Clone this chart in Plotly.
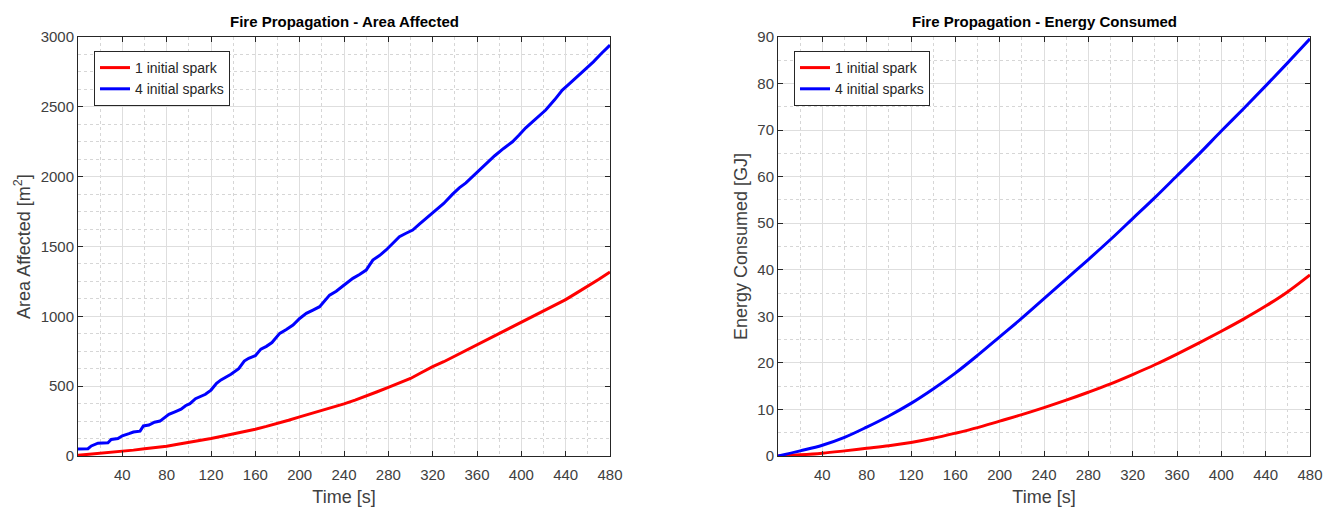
import plotly.graph_objects as go

# ---- Data: Area affected ----
t_area_4 = [0, 9, 12, 18, 27, 30, 36, 40, 46, 50, 56, 59, 64, 69, 74, 78, 82, 88, 93, 97,
            101, 106, 111, 115, 120, 125, 129, 134, 138, 145, 150, 154, 160, 165, 170, 175,
            182, 188, 194, 200, 206, 212, 218, 227, 233, 239, 248, 254, 260, 266, 272, 278,
            284, 290, 296, 302, 308, 314, 320, 326, 330, 338, 344, 350, 356, 362, 368, 376,
            384, 392, 398, 404, 410, 416, 422, 430, 437, 444, 452, 458, 465, 472, 480]
area_4 = [50, 52, 72, 92, 95, 118, 125, 145, 160, 172, 178, 215, 222, 242, 250, 275, 298, 318, 335, 360,
          375, 410, 425, 442, 472, 520, 545, 565, 585, 625, 680, 700, 718, 765, 785, 812,
          878, 905, 938, 985, 1021, 1045, 1069, 1152, 1180, 1217, 1272, 1300, 1331, 1403, 1435, 1475,
          1520, 1570, 1595, 1618, 1660, 1701, 1745, 1785, 1808, 1875, 1920, 1955, 2000, 2050, 2095, 2150,
          2202, 2250, 2298, 2350, 2393, 2435, 2477, 2550, 2620, 2670, 2727, 2775, 2822, 2880, 2942]

t_area_1 = [0, 10, 20, 30, 40, 50, 60, 70, 80, 90, 100, 110, 120, 130, 140, 150, 160, 170, 180, 190,
            200, 210, 220, 230, 240, 250, 260, 270, 280, 290, 300, 310, 320, 330, 340, 350, 360, 370,
            380, 390, 400, 410, 420, 430, 440, 450, 460, 470, 480]
area_1 = [5, 12, 20, 26, 32, 42, 52, 60, 70, 84, 97, 110, 125, 142, 158, 175, 192, 212, 232, 256,
          280, 302, 325, 350, 373, 400, 428, 460, 492, 522, 555, 598, 640, 675, 715, 755, 800, 838,
          878, 918, 960, 1000, 1040, 1078, 1120, 1168, 1215, 1265, 1318]

# ---- Data: Energy consumed ----
t_energy = [0, 20, 40, 60, 80, 100, 120, 140, 160, 180, 200, 220, 240, 260, 280, 300, 320, 340,
            360, 380, 400, 420, 440, 460, 480]
energy_1 = [0, 0.25, 0.6, 1.1, 1.65, 2.2, 2.9, 3.8, 4.9, 6.1, 7.5, 8.9, 10.4, 12.0, 13.7, 15.5,
            17.5, 19.6, 21.9, 24.3, 26.8, 29.4, 32.2, 35.3, 38.9]
energy_4 = [0, 1.1, 2.3, 4.0, 6.2, 8.6, 11.3, 14.4, 17.8, 21.6, 25.6, 29.6, 33.8, 38.0, 42.2, 46.5,
            51.0, 55.5, 60.2, 64.9, 69.8, 74.6, 79.5, 84.5, 89.6]

x_ticks = [40, 80, 120, 160, 200, 240, 280, 320, 360, 400, 440, 480]
y_ticks_area = [0, 500, 1000, 1500, 2000, 2500, 3000]
y_ticks_energy = [0, 10, 20, 30, 40, 50, 60, 70, 80, 90]

RED = "#ff0000"
BLUE = "#0000ff"
AX = "#262626"
FONT = "Liberation Sans, Arial, Helvetica, sans-serif"

fig = go.Figure()
fig.add_trace(go.Scatter(x=t_area_1, y=area_1, mode="lines", name="1 initial spark",
                         line=dict(color=RED, width=3), xaxis="x", yaxis="y", legend="legend"))
fig.add_trace(go.Scatter(x=t_area_4, y=area_4, mode="lines", name="4 initial sparks",
                         line=dict(color=BLUE, width=3), xaxis="x", yaxis="y", legend="legend"))
fig.add_trace(go.Scatter(x=t_energy, y=energy_1, mode="lines", name="1 initial spark",
                         line=dict(color=RED, width=3, shape="spline"), xaxis="x2", yaxis="y2", legend="legend2"))
fig.add_trace(go.Scatter(x=t_energy, y=energy_4, mode="lines", name="4 initial sparks",
                         line=dict(color=BLUE, width=3, shape="spline"), xaxis="x2", yaxis="y2", legend="legend2"))

W, H = 1336, 514
ML, MR, MT, MB = 78, 26, 37, 58
PW = W - ML - MR
d1 = [0, (610 - ML) / PW]
d2 = [(778 - ML) / PW, 1]

def xax(domain, anchor):
    return dict(domain=domain, anchor=anchor, range=[0, 480], tickvals=x_ticks, automargin=False,
                showline=True, linecolor=AX, linewidth=1, mirror="ticks",
                ticks="inside", ticklen=5, tickcolor=AX, ticklabelstandoff=5,
                showgrid=True, gridcolor="#dedede", gridwidth=1, zeroline=False,
                minor=dict(dtick=20, tick0=0, showgrid=True, gridcolor="#d6d6d6", griddash="dot", gridwidth=1),
                tickfont=dict(family=FONT, size=15, color="#404040"),
                title=dict(text="Time [s]", font=dict(family=FONT, size=18, color="#404040"), standoff=8))

def yax(anchor, rng, vals, minor, title):
    return dict(anchor=anchor, domain=[0, 1], range=rng, tickvals=vals, automargin=False,
                showline=True, linecolor=AX, linewidth=1, mirror="ticks",
                ticks="inside", ticklen=5, tickcolor=AX,
                showgrid=True, gridcolor="#dedede", gridwidth=1, zeroline=False,
                minor=dict(dtick=minor, tick0=0, showgrid=True, gridcolor="#d6d6d6", griddash="dot", gridwidth=1),
                tickfont=dict(family=FONT, size=15, color="#404040"),
                title=dict(text=title, font=dict(family=FONT, size=18, color="#404040"), standoff=5))

legend_style = dict(bgcolor="white", bordercolor=AX, borderwidth=1,
                    font=dict(family=FONT, size=14, color="#262626"),
                    xanchor="left", yanchor="top", tracegroupgap=0, itemwidth=30)

fig.update_layout(
    width=W, height=H,
    margin=dict(l=ML, r=MR, t=MT, b=MB),
    paper_bgcolor="white", plot_bgcolor="white",
    xaxis=xax(d1, "y"),
    yaxis=yax("x", [0, 3000], y_ticks_area, 125, "Area Affected [m<sup>2</sup>]"),
    xaxis2=xax(d2, "y2"),
    yaxis2=yax("x2", [0, 90], y_ticks_energy, 5, "Energy Consumed [GJ]"),
    legend=dict(x=(94 - ML) / PW, y=1 - (51 - MT) / (H - MT - MB), **legend_style),
    legend2=dict(x=(794 - ML) / PW, y=1 - (51 - MT) / (H - MT - MB), **legend_style),
    showlegend=True,
    annotations=[
        dict(text="<b>Fire Propagation - Area Affected</b>", x=(d1[0] + d1[1]) / 2, y=1, xref="paper", yref="paper",
             xanchor="center", yanchor="bottom", yshift=5, showarrow=False,
             font=dict(family=FONT, size=15, color="#000000")),
        dict(text="<b>Fire Propagation - Energy Consumed</b>", x=(d2[0] + d2[1]) / 2, y=1, xref="paper", yref="paper",
             xanchor="center", yanchor="bottom", yshift=5, showarrow=False,
             font=dict(family=FONT, size=15, color="#000000")),
    ],
)

fig.write_html("out.html")
